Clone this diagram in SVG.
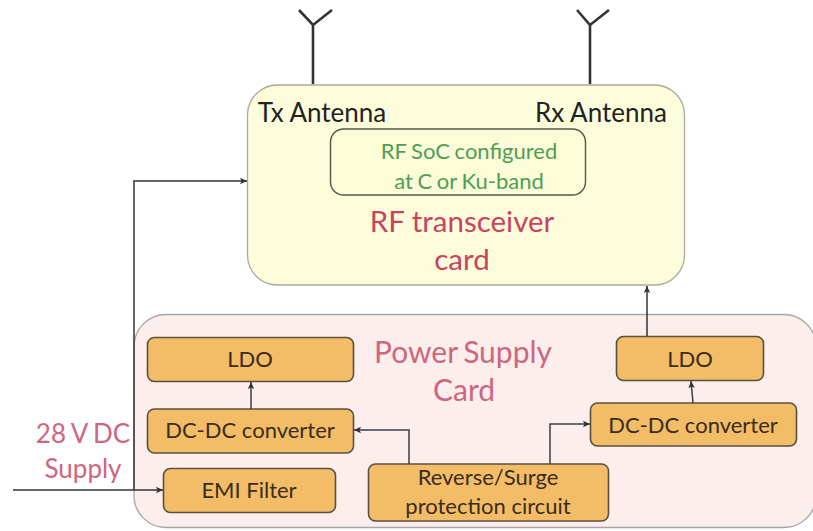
<svg xmlns="http://www.w3.org/2000/svg" width="813" height="531" viewBox="0 0 813 531">
<style>
text{font-family:"Lato","Open Sans","Liberation Sans",sans-serif;text-anchor:middle}
.blk{fill:#f3bd68;stroke:#5a5040;stroke-width:1.6}
.lbl{font-size:22px;fill:#3a2c1c}
.ant{font-size:26px;fill:#222}
.red{font-size:29.500px;fill:#c8435f}
.pink{font-size:30px;fill:#cf6680;word-spacing:-2px}
.sup{font-size:26px;fill:#cf6680;word-spacing:-1px}
.grn{font-size:22px;fill:#4f9e55;word-spacing:-1px}
.w{fill:none;stroke:#333;stroke-width:1.5}
.a{stroke:#3c3c44}
</style>
<defs><marker id="ah" markerWidth="8" markerHeight="8" refX="7" refY="4" orient="auto" markerUnits="userSpaceOnUse"><path d="M0 0.8L7 4L0 7.2L1.500 4Z" fill="#333"/></marker></defs>
<rect width="813" height="531" fill="#fff"/>
<g id="rf-card"><rect x="247.500" y="85" width="437" height="200" rx="30" fill="#fdfddc" stroke="#aaa99a" stroke-width="1.300"/>
<text class="ant" x="322" y="122">Tx Antenna</text><text class="ant" x="601" y="122">Rx Antenna</text>
<text class="red" x="462" y="232">RF transceiver</text><text class="red" x="462" y="270">card</text></g>
<g id="rf-soc"><rect x="330.500" y="129" width="255" height="66" rx="13" fill="#fcfcd8" stroke="#55574a" stroke-width="1.400"/>
<text class="grn" x="469" y="159">RF SoC configured</text><text class="grn" x="469" y="189">at C or Ku-band</text></g>
<g id="power-card"><rect x="134" y="314.500" width="682" height="213" rx="32" fill="#fbeeed" stroke="#a9a5a5" stroke-width="1.300"/>
<text class="pink" x="463" y="363">Power Supply</text><text class="pink" x="464" y="401">Card</text></g>
<g id="ldo-left"><rect class="blk" x="147.500" y="337.500" width="206" height="44" rx="7"/><text class="lbl" x="250" y="367">LDO</text></g>
<g id="dcdc-left"><rect class="blk" x="147.500" y="409" width="206" height="44" rx="7"/><text class="lbl" x="250" y="438">DC-DC converter</text></g>
<g id="emi"><rect class="blk" x="163.500" y="468.500" width="172" height="44" rx="7"/><text class="lbl" x="249" y="498">EMI Filter</text></g>
<g id="protection"><rect class="blk" x="368.500" y="464" width="240" height="57" rx="7"/><text class="lbl" x="488" y="485">Reverse/Surge</text><text class="lbl" x="488" y="514">protection circuit</text></g>
<g id="ldo-right"><rect class="blk" x="616.500" y="336.500" width="147" height="44" rx="7"/><text class="lbl" x="690" y="367">LDO</text></g>
<g id="dcdc-right"><rect class="blk" x="590.500" y="403" width="206" height="43" rx="7"/><text class="lbl" x="693" y="433">DC-DC converter</text></g>
<g id="supply-label"><text class="sup" x="83" y="443">28 V DC</text><text class="sup" x="83" y="478">Supply</text></g>
<g id="connectors">
<path d="M313 84V25M299 10L313 25L332 10" fill="none" stroke="#333" stroke-width="2.600"/>
<path d="M590 84V25M577 10L590 25L609 10" fill="none" stroke="#333" stroke-width="2.600"/>
<path class="w" d="M134 490V181H247" marker-end="url(#ah)"/>
<path class="w" d="M13 490H163" marker-end="url(#ah)"/>
<path class="w a" d="M251 409V382" marker-end="url(#ah)"/>
<path class="w a" d="M409 464V430H354" marker-end="url(#ah)"/>
<path class="w a" d="M550 464V424H590" marker-end="url(#ah)"/>
<path class="w a" d="M693 403L691 381" marker-end="url(#ah)"/>
<path class="w" d="M647 336V286" marker-end="url(#ah)"/>
</g>
</svg>
